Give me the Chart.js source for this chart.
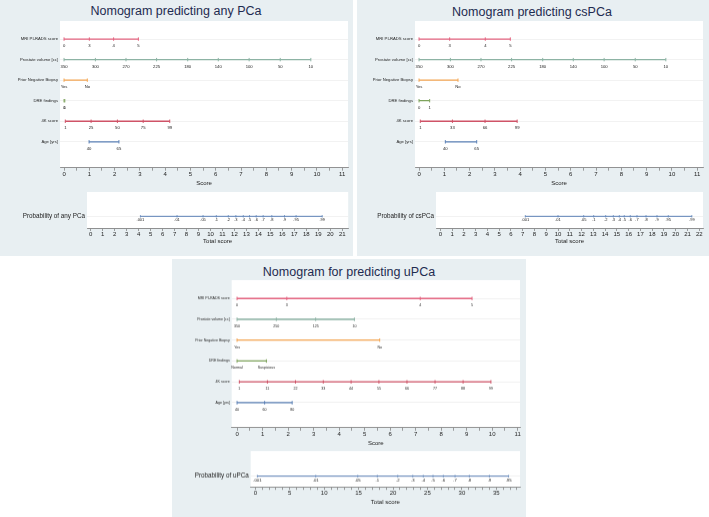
<!DOCTYPE html>
<html>
<head>
<meta charset="utf-8">
<script src="https://cdn.jsdelivr.net/npm/chart.js@4.4.1/dist/chart.umd.min.js"></script>
<style>
  body { margin: 0; background: #fff; width: 709px; height: 517px; position: relative; overflow: hidden; font-family: "Liberation Sans", Arial, sans-serif; }
  .panel { position: absolute; background: #e8eff2; }
  .title { position: absolute; width: 320px; font-size: 12.5px; line-height: 1; color: #1e2b50; text-align: center; white-space: nowrap; }
  canvas { position: absolute; }
</style>
</head>
<body>
<div class="panel" style="left:0;top:0;width:353px;height:256px"></div>
<div class="panel" style="left:357px;top:0;width:352px;height:256px"></div>
<div class="panel" style="left:172px;top:259px;width:354px;height:258px"></div>

<div class="title" style="left:16px;top:5px">Nomogram predicting any PCa</div>
<div class="title" style="left:372px;top:6px">Nomogram predicting csPCa</div>
<div class="title" style="left:189px;top:265.5px">Nomogram for predicting uPCa</div>

<canvas id="anyUp"></canvas>
<canvas id="anyDown"></canvas>
<canvas id="csUp"></canvas>
<canvas id="csDown"></canvas>
<canvas id="uUp"></canvas>
<canvas id="uDown"></canvas>

<script>
// rows of the nomograms
const rowNames = ['MRI PI-RADS score', 'Prostate volume [cc]', 'Prior Negative Biopsy', 'DRE findings', '4K score', 'Age [yrs]'];
const rowColors = ['#e3637f', '#8db3a4', '#f3a552', '#7ea35c', '#cf5367', '#5b80b6'];
const probColor = '#5b80b6';

// Nomogram predicting any PCa (score of each value)
const anyPoints = [
  [0, 1.0, 1.96, 2.94],
  [0, 1.24, 2.45, 3.66, 4.89, 6.1, 7.32, 8.55, 9.76],
  [0, 0.92],
  [0, 0.03],
  [0.05, 1.07, 2.11, 3.13, 4.18],
  [0.99, 2.17]
];
const anyLabels = [
  ['0', '3', '4', '5'],
  ['350', '300', '270', '225', '180', '140', '100', '50', '10'],
  ['Yes', 'No'],
  ['0', '1'],
  ['1', '25', '50', '75', '99'],
  ['40', '65']
];
const anyProbPos = [4.15, 7.21, 9.38, 10.49, 11.49, 12.12, 12.74, 13.26, 13.82, 14.4, 15.12, 16.18, 17.15, 19.33];
const anyProbLabels = ['.001', '.01', '.05', '.1', '.2', '.3', '.4', '.5', '.6', '.7', '.8', '.9', '.95', '.99'];

// Nomogram predicting csPCa
const csPoints = [
  [0, 1.21, 2.62, 3.61],
  [0, 1.24, 2.45, 3.66, 4.89, 6.1, 7.32, 8.55, 9.76],
  [0, 1.54],
  [0, 0.42],
  [0.05, 1.32, 2.61, 3.88],
  [1.04, 2.28]
];
const csLabels = [
  ['0', '3', '4', '5'],
  ['350', '300', '270', '225', '180', '140', '100', '50', '10'],
  ['Yes', 'No'],
  ['0', '1'],
  ['1', '33', '66', '99'],
  ['40', '65']
];
const csProbPos = [7.22, 10.0, 12.18, 13.03, 14.05, 14.7, 15.21, 15.63, 16.14, 16.71, 17.48, 18.41, 19.37, 21.37];
const csProbLabels = ['.001', '.01', '.05', '.1', '.2', '.3', '.4', '.5', '.6', '.7', '.8', '.9', '.95', '.99'];

// Nomogram for predicting uPCa
const uPoints = [
  [0, 1.95, 7.18, 9.21],
  [0, 1.54, 3.08, 4.6],
  [0, 5.59],
  [0, 1.15],
  [0.09, 1.19, 2.29, 3.38, 4.47, 5.56, 6.66, 7.76, 8.86, 9.95],
  [0, 1.08, 2.16]
];
const uLabels = [
  ['0', '3', '4', '5'],
  ['350', '250', '125', '10'],
  ['Yes', 'No'],
  ['Normal', 'Suspicious'],
  ['1', '11', '22', '33', '44', '55', '66', '77', '88', '99'],
  ['40', '60', '80']
];
const uProbPos = [0.3, 8.77, 14.87, 17.72, 20.68, 22.86, 24.4, 25.81, 27.31, 29.01, 31.09, 34.0, 36.78];
const uProbLabels = ['.001', '.01', '.05', '.1', '.2', '.3', '.4', '.5', '.6', '.7', '.8', '.9', '.95'];

Chart.defaults.font.family = '"Liberation Sans", Arial, Helvetica, sans-serif';

function range(a, b, step) {
  const out = [];
  for (let i = 0; a + i * step <= b + 1e-9; i++) out.push(+(a + i * step).toFixed(2));
  return out;
}

// white plot area
const plotBg = {
  id: 'plotBg',
  beforeDraw(chart) {
    const a = chart.chartArea;
    chart.ctx.save();
    chart.ctx.fillStyle = '#fff';
    chart.ctx.fillRect(a.left, a.top, a.right - a.left, a.bottom - a.top);
    chart.ctx.restore();
  }
};

// value text under each mark
const valueLabels = {
  id: 'valueLabels',
  afterDatasetsDraw(chart, args, opts) {
    const ctx = chart.ctx;
    ctx.save();
    ctx.font = opts.size + 'px "Liberation Sans", Arial, sans-serif';
    ctx.fillStyle = '#222';
    ctx.textAlign = 'center';
    ctx.textBaseline = 'middle';
    opts.labels.forEach((list, i) => {
      chart.getDatasetMeta(i).data.forEach((pt, j) => ctx.fillText(list[j], pt.x, pt.y + opts.offset));
    });
    ctx.restore();
  }
};

function makeChart(id, box, g) {
  const cv = document.getElementById(id);
  cv.width = box.w; cv.height = box.h;
  cv.style.left = box.x + 'px'; cv.style.top = box.y + 'px';
  cv.style.width = box.w + 'px'; cv.style.height = box.h + 'px';
  return new Chart(cv, {
    type: 'scatter',
    data: { datasets: g.datasets },
    plugins: [plotBg, valueLabels],
    options: {
      responsive: false,
      animation: false,
      devicePixelRatio: 1,
      events: [],
      layout: { padding: { left: 0, top: g.padTop, right: g.padRight, bottom: 0 } },
      plugins: {
        legend: { display: false },
        tooltip: { enabled: false },
        valueLabels: { labels: g.labels, size: g.labelSize, offset: g.labelOffset }
      },
      scales: {
        x: {
          type: 'linear', min: g.xMin, max: g.xMax,
          afterBuildTicks: s => { s.ticks = g.xTicks.map(v => ({ value: v })); },
          afterFit: s => { s.height = g.xHeight; },
          ticks: { callback: g.xTickLabel, font: { size: 6 }, color: '#222', padding: 0, maxRotation: 0, autoSkip: false },
          grid: { drawOnChartArea: false, tickLength: 3, color: '#777', lineWidth: 0.7 },
          border: { display: true, color: '#777', width: 0.8 },
          title: { display: true, text: g.xTitle, font: { size: 6 }, color: '#222', padding: { top: 0, bottom: 3.5 } }
        },
        y: {
          type: 'linear', reverse: true, min: g.yMin, max: g.yMax,
          afterBuildTicks: s => { s.ticks = g.rows.map((r, i) => ({ value: i })); },
          afterFit: s => { s.width = g.yWidth; },
          ticks: { callback: v => g.rows[v], font: { size: g.rowFont }, color: '#222', padding: 2, autoSkip: false },
          grid: { color: '#e9e9e9', lineWidth: 0.6, drawTicks: false },
          border: { display: false }
        }
      }
    }
  });
}

function predictorSets(points) {
  return points.map((pts, i) => ({
    data: pts.map(x => ({ x: x, y: i })),
    showLine: true,
    borderColor: rowColors[i],
    borderWidth: 1.3,
    pointStyle: 'line',
    pointRotation: 90,
    pointRadius: 1.7,
    pointBorderWidth: 1,
    pointBorderColor: rowColors[i]
  }));
}

function probSet(pos) {
  return [{
    data: pos.map(x => ({ x: x, y: 0 })),
    showLine: true,
    borderColor: probColor,
    borderWidth: 1,
    pointStyle: 'line',
    pointRotation: 90,
    pointRadius: 1.2,
    pointBorderWidth: 0.8,
    pointBorderColor: probColor
  }];
}

const halfTicks = v => Number.isInteger(v) ? v : '';

// any PCa
makeChart('anyUp', { x: 0, y: 0, w: 353, h: 190 }, {
  datasets: predictorSets(anyPoints), labels: anyLabels, labelSize: 4.2, labelOffset: 7,
  rows: rowNames, rowFont: 4.2, yWidth: 60, yMin: -0.88, yMax: 6.26,
  padTop: 21, padRight: 4, xHeight: 22.3, xMin: -0.16, xMax: 11.23,
  xTicks: range(0, 11, 0.5), xTickLabel: halfTicks, xTitle: 'Score'
});
makeChart('anyDown', { x: 0, y: 186, w: 353, h: 62 }, {
  datasets: probSet(anyProbPos), labels: [anyProbLabels], labelSize: 4, labelOffset: 4,
  rows: ['Probability of any PCa'], rowFont: 6.3, yWidth: 87, yMin: -1, yMax: 0.48,
  padTop: 6, padRight: 4, xHeight: 20, xMin: -0.31, xMax: 21.5,
  xTicks: range(0, 21, 1), xTickLabel: v => v, xTitle: 'Total score'
});

// csPCa
makeChart('csUp', { x: 357, y: 0, w: 352, h: 190 }, {
  datasets: predictorSets(csPoints), labels: csLabels, labelSize: 4.2, labelOffset: 7,
  rows: rowNames, rowFont: 4.2, yWidth: 58, yMin: -0.88, yMax: 6.26,
  padTop: 21, padRight: 6, xHeight: 22.3, xMin: -0.16, xMax: 11.23,
  xTicks: range(0, 11, 0.5), xTickLabel: halfTicks, xTitle: 'Score'
});
makeChart('csDown', { x: 357, y: 186, w: 352, h: 62 }, {
  datasets: probSet(csProbPos), labels: [csProbLabels], labelSize: 4, labelOffset: 4,
  rows: ['Probability of csPCa'], rowFont: 6.3, yWidth: 79, yMin: -1, yMax: 0.48,
  padTop: 6, padRight: 6, xHeight: 20, xMin: -0.37, xMax: 22.32,
  xTicks: range(0, 22, 1), xTickLabel: v => v, xTitle: 'Total score'
});

// uPCa
makeChart('uUp', { x: 172, y: 259, w: 354, h: 190.5 }, {
  datasets: predictorSets(uPoints), labels: uLabels, labelSize: 3.6, labelOffset: 7,
  rows: rowNames, rowFont: 3.6, yWidth: 59.7, yMin: -0.88, yMax: 6.2,
  padTop: 21, padRight: 6, xHeight: 22.2, xMin: -0.21, xMax: 11.09,
  xTicks: range(0, 11, 0.5), xTickLabel: halfTicks, xTitle: 'Score'
});
makeChart('uDown', { x: 172, y: 445, w: 354, h: 63.5 }, {
  datasets: probSet(uProbPos), labels: [uProbLabels], labelSize: 4.2, labelOffset: 4,
  rows: ['Probability of uPCa'], rowFont: 6.3, yWidth: 78.7, yMin: -1, yMax: 0.428,
  padTop: 6, padRight: 6, xHeight: 21.8, xMin: -0.67, xMax: 38.44,
  xTicks: range(0, 38, 1), xTickLabel: v => (v % 5 === 0 && v <= 35) ? v : '', xTitle: 'Total score'
});
</script>
</body>
</html>
